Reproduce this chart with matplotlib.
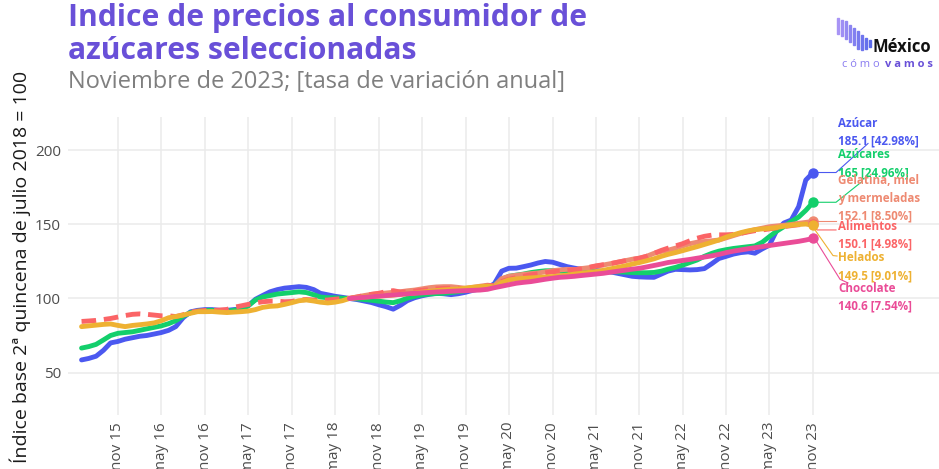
import numpy as np
import pandas as pd
import matplotlib
matplotlib.use("Agg")
import matplotlib.pyplot as plt
import matplotlib.dates as mdates
from matplotlib.patches import Rectangle

# monthly index values, jun 2015 - nov 2023
fechas = pd.date_range("2015-06-01", "2023-11-01", freq="MS")
fechas_cortas = pd.date_range("2018-07-01", "2023-11-01", freq="MS")

azucar = [58.5, 59.5, 61, 65, 70, 71, 72.5, 73.5, 74.5, 75,
          76, 77, 78.5, 81, 87, 91, 92, 92.5, 92.5, 92,
          92, 92.5, 93, 95, 99.5, 102, 104.5, 106, 107, 107.5,
          108, 107.5, 106, 103.5, 102.5, 101.5, 100.8, 100, 99.3, 98.3,
          97.3, 95.8, 94.5, 92.8, 95.5, 98.5, 100.5, 101.8, 102.8, 103.5,
          103.2, 102.6, 103.2, 104.2, 105.5, 106.5, 107.2, 110, 118.5, 120.4,
          120.5, 121.5, 122.6, 124, 125, 124.5, 123, 121.5, 120.5, 119.8,
          119.4, 119, 118.3, 118, 117, 116, 115, 114.6, 114.4, 114.3,
          116.5, 118.5, 119.7, 119.5, 119.3, 119.5, 120.2, 123.5, 127, 128.5,
          130, 131, 131.5, 130.6, 133.5, 136, 146, 151, 153, 162,
          180, 185.1]
azucares = [66.5, 67.5, 69, 72, 75, 76.5, 77, 77.5, 78.5, 79.5,
            80.5, 81.5, 83, 85, 88, 90.5, 91.5, 92, 92, 91.5,
            91.5, 92, 93, 95, 99, 101, 102, 103, 103.5, 104,
            104.5, 104, 102.5, 101, 100.5, 100.5, 100.2, 100, 99.8, 99.3,
            98.8, 98.2, 97.6, 97.2, 98.5, 100.2, 101.5, 102.4, 103, 103.3,
            103.5, 104, 104.6, 105.3, 106, 106.5, 107.5, 109, 113, 115,
            115.8, 116.5, 117.5, 118.2, 118.7, 118.8, 118.5, 118.2, 118.1, 118.1,
            118, 118, 118, 118.1, 118, 117.8, 117.5, 117.4, 117.4, 117.6,
            118.5, 119.8, 121, 122.5, 124.3, 126, 128.5, 130.5, 132, 133,
            133.8, 134.4, 135, 135.5, 138, 141.8, 145.5, 148.5, 152, 155,
            159.5, 165]
alimentos = [84.5, 84.8, 85.2, 85.8, 86.5, 87.5, 88.5, 89.3, 89.6, 89.3,
             88.8, 88.3, 88.3, 87.8, 89, 90.8, 91.5, 92, 92, 92.2,
             92.6, 94, 95, 96, 97, 97.8, 98.2, 98.2, 97.8, 98,
             99, 99.3, 99, 98.8, 99, 99.5, 100, 100.2, 101, 102,
             102.8, 103.5, 104.6, 105.3, 104.3, 104.5, 105, 105.5, 106, 106.5,
             106.8, 107, 106.8, 106.5, 107, 107.8, 108.5, 108.8, 111.5, 113,
             114, 115, 116, 116.7, 117.3, 118, 118.5, 119, 119.5, 120,
             121, 122, 122.8, 123.5, 124.5, 125.5, 126.3, 127.2, 128.5, 130.5,
             132.5, 134, 135.5, 137, 139, 140.7, 142, 142.8, 143, 143,
             143.3, 144, 145, 145.8, 146.3, 147, 147.7, 148.5, 149.2, 149.8,
             150.2, 150.1]
helados = [81, 81.5, 82, 82.5, 82.8, 81.8, 81, 81.8, 82.3, 82.8,
           83.5, 85, 87, 87.8, 88.8, 90, 91.1, 91.1, 91.2, 90.8,
           90.5, 90.8, 91.1, 91.5, 92.5, 94, 94.7, 95, 96, 97.2,
           98.5, 99, 98.3, 97.5, 97, 97.5, 98.5, 100, 100.5, 101,
           101.3, 101.6, 101.9, 102.3, 102.8, 103.2, 103.7, 104.3, 104.8, 105.4,
           105.8, 106.1, 106.4, 107, 107.6, 108, 108.3, 107.8, 110.8, 112.5,
           113.2, 113.6, 113.9, 114.2, 114.5, 114.8, 115.3, 115.8, 116.5, 117,
           117.6, 118.2, 119, 120, 121, 122, 123.2, 124.3, 125.5, 126.8,
           128.5, 129.8, 131, 132.3, 133.7, 135, 136.5, 138, 139.5, 141.5,
           143, 144.5, 145.7, 146.5, 147, 147.4, 148, 148.8, 149.5, 150,
           150.3, 149.5]
gelatina = [100, 101, 102, 102.8, 103.3, 103.7, 104.2, 104.6, 105.2, 105.7,
            106.5, 107.3, 107.8, 108, 108, 107.5, 106.9, 107.5, 108.3, 109,
            108.5, 113.5, 115, 115.7, 116.3, 116.8, 117.2, 118, 118.8, 119.3,
            119.7, 119.5, 120.2, 120.8, 121.8, 122.6, 123.5, 124.5, 125.5, 126.5,
            127.3, 128.5, 130.5, 131.8, 132.6, 134, 135.5, 137, 138, 138.5,
            139, 139.5, 141, 142.5, 144, 145.3, 146.5, 147.5, 148.5, 149,
            149.5, 150, 150.8, 151.4, 152.1]
chocolate = [100, 100.4, 100.8, 101.2, 101.6, 102, 102.4, 102.8, 103.2, 103.5,
             103.8, 104.1, 104.4, 104.6, 104.9, 105.1, 105.3, 105.5, 105.7, 106.2,
             107.3, 108.3, 109.3, 110.3, 110.9, 111.4, 112.2, 113, 113.7, 114.3,
             114.6, 115, 115.5, 116, 116.5, 117, 117.7, 118.4, 119.1, 119.8,
             120.4, 121.3, 122.3, 123.3, 124.3, 125, 125.7, 126.4, 127.2, 128,
             128.8, 129.8, 131, 132, 132.8, 133.6, 134.3, 135, 135.8, 136.5,
             137.2, 137.9, 138.6, 139.5, 140.6]

nombres = ["Azúcar", "Azúcares", "Gelatina, miel\ny mermeladas", "Alimentos", "Helados", "Chocolate"]
tasas = ["42.98%", "24.96%", "8.50%", "4.98%", "9.01%", "7.54%"]
colores = ["#4b58f0", "#13cf6b", "#ee8a72", "#fb6466", "#eeb132", "#ea4c97"]

tick_labels = ["nov 15", "may 16", "nov 16", "may 17", "nov 17", "may 18", "nov 18",
               "may 19", "nov 19", "may 20", "nov 20", "may 21", "nov 21", "may 22",
               "nov 22", "may 23", "nov 23"]
tick_fechas = pd.date_range("2015-11-01", "2023-11-01", freq="6MS")

plt.rcParams['font.family'] = ['Open Sans', 'DejaVu Sans']

W, H = 939, 469
fig = plt.figure(figsize=(W / 100, H / 100), dpi=100)
ax = fig.add_axes([68 / W, 1 - 415 / H, 1 - 68 / W, (415 - 117) / H])

x0 = mdates.date2num(pd.Timestamp("2015-11-01") - pd.Timedelta(days=210))
x1 = mdates.date2num(pd.Timestamp("2015-11-01") + pd.Timedelta(days=3451))
ax.set_xlim(x0, x1)
ax.set_ylim(21.3, 222.6)


def px(p):
    # figure pixel column -> x data value
    return x0 + (p - 68) / (W - 68) * (x1 - x0)


series = [(fechas, azucar), (fechas, azucares), (fechas_cortas, gelatina),
          (fechas, alimentos), (fechas, helados), (fechas_cortas, chocolate)]
for i in range(len(series)):
    f, v = series[i]
    ls = (0, (3, 1.6)) if nombres[i] == "Alimentos" else "-"
    ax.plot(f, v, color=colores[i], lw=3.5, ls=ls, solid_capstyle="round",
            dash_capstyle="butt", zorder=3)
    ax.plot(f[-1], v[-1], "o", color=colores[i], ms=6.5, zorder=4)

# labels at right, with connectors
fin = mdates.date2num(fechas[-1])
label_y = [212.2, 190.9, 167.6, 142.6, 121.6, 100.7]
conectores = [
    [(fin, 185.1), (px(836), 185.1), (px(868), 204.7)],
    [(fin, 165), (px(836), 165), (px(862), 179)],
    [(fin, 152.1), (px(836), 152.1)],
    [(fin, 150.1), (px(817), 146.3), (px(836), 146.3)],
    [(fin, 149.5), (px(815), 146.3), (px(833), 129), (px(837), 128.7)],
    [(fin, 140.6), (px(816), 139), (px(840), 113), (px(848), 110.5)],
]
for i in range(len(nombres)):
    xs, ys = zip(*conectores[i])
    ax.plot(xs, ys, color=colores[i], lw=0.8, zorder=2, clip_on=False)
    valor = series[i][1][-1]
    txt = "%s\n%s [%s]" % (nombres[i], ("%g" % valor), tasas[i])
    ax.text(px(838), label_y[i], txt, color=colores[i], fontsize=8.4,
            fontweight="bold", ha="left", va="center", linespacing=1.5,
            zorder=5, clip_on=False)

ax.set_xticks(mdates.date2num(tick_fechas))
ax.set_xticklabels(tick_labels, rotation=90, ha="center", va="top")
ax.set_yticks([50, 100, 150, 200])
ax.tick_params(axis="both", length=0, labelsize=11, labelcolor="#4d4d4d")
ax.tick_params(axis="x", pad=5)
ax.tick_params(axis="y", pad=5)
ax.grid(True, color="#ebebeb", lw=1.1)
ax.set_axisbelow(True)
for s in ax.spines.values():
    s.set_visible(False)

fig.text(20 / W, 1 - 267 / H, "Índice base 2ª quincena de julio 2018 = 100",
         rotation=90, ha="center", va="center", fontsize=14, color="#1a1a1a")

# title block
fig.text(68 / W, 1 - 26 / H, "Indice de precios al consumidor de",
         fontsize=21.7, fontweight="bold", color="#6950d8", va="baseline")
fig.text(68 / W, 1 - 59 / H, "azúcares seleccionadas",
         fontsize=21.7, fontweight="bold", color="#6950d8", va="baseline")
fig.text(68 / W, 1 - 88 / H, "Noviembre de 2023; [tasa de variación anual]",
         fontsize=17, color="#7f7f7f", va="baseline")

# logo
alturas = [(18, 34), (20, 36), (21, 39), (25, 42), (28, 45), (31, 49), (35, 50), (38, 49), (40, 47)]
for k in range(len(alturas)):
    t = k / (len(alturas) - 1)
    col = (0.66 - 0.3 * t, 0.58 - 0.16 * t, 0.96 - 0.04 * t)
    top, bot = alturas[k]
    xb = 837 + k * 4.0
    fig.patches.append(Rectangle((xb / W, 1 - bot / H), 2.0 / W, (bot - top) / H,
                                 transform=fig.transFigure, color=col))
fig.text(873 / W, 1 - 52 / H, "México", fontsize=12, fontweight="bold",
         color="#111111", va="baseline")
fig.text(842 / W, 1 - 67 / H, "c ó m o", fontsize=8, color="#8a7cf0", va="baseline")
fig.text(885 / W, 1 - 67 / H, "v a m o s", fontsize=8, fontweight="bold",
         color="#6950d8", va="baseline")

fig.savefig("out.png", dpi=100)
